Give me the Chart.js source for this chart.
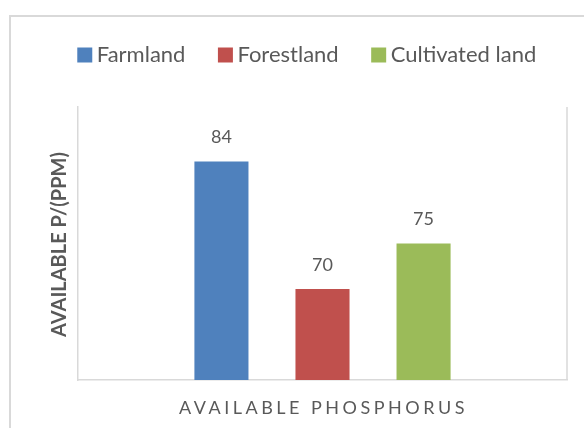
<!DOCTYPE html>
<html>
<head>
<meta charset="utf-8">
<script src="https://cdn.jsdelivr.net/npm/chart.js@4.4.1/dist/chart.umd.min.js"></script>
<style>
  html, body { margin: 0; padding: 0; background: #fff; width: 584px; height: 428px; overflow: hidden; }
  #wrap { position: relative; width: 584px; height: 428px; }
  #chart { position: absolute; left: 0; top: 0; }
  #frame { position: absolute; left: 9px; top: 15px; width: 620px; height: 460px; border: 2px solid #d9d9d9; pointer-events: none; }
</style>
</head>
<body>
<div id="wrap">
  <canvas id="chart" width="584" height="428"></canvas>
  <div id="frame"></div>
</div>
<script>
const categories = [''];
const seriesNames = ['Farmland', 'Forestland', 'Cultivated land'];
const seriesValues = [84, 70, 75];
const seriesColors = ['#4f81bd', '#c0504d', '#9bbb59'];
const yTitle = 'AVAILABLE P/(PPM)';
const xTitle = 'AVAILABLE PHOSPHORUS';
const yMin = 60;
const yMax = 90;

const textColor = '#595959';
const lineColor = '#d9d9d9';
const fontFamily = 'Lato, "Open Sans", sans-serif';

let datasets = seriesNames.map((name, i) => ({
  label: name,
  data: [seriesValues[i]],
  backgroundColor: seriesColors[i],
  borderWidth: 0,
  categoryPercentage: 0.62,
  barPercentage: 0.535
}));

// data labels over each bar
const barLabels = {
  id: 'barLabels',
  afterDatasetsDraw(chart) {
    const ctx = chart.ctx;
    ctx.save();
    ctx.font = '18px ' + fontFamily;
    ctx.fillStyle = textColor;
    ctx.textAlign = 'center';
    ctx.textBaseline = 'middle';
    chart.data.datasets.forEach((ds, i) => {
      chart.getDatasetMeta(i).data.forEach((bar, j) => {
        ctx.fillText(ds.data[j], bar.x, bar.y - 24);
      });
    });
    ctx.restore();
  }
};

// right side of plot box + axis titles (x one is letter spaced)
const plotExtras = {
  id: 'plotExtras',
  afterDraw(chart) {
    const ctx = chart.ctx;
    const a = chart.chartArea;
    ctx.save();
    ctx.strokeStyle = lineColor;
    ctx.lineWidth = 1.5;
    ctx.beginPath();
    ctx.moveTo(a.right, a.top);
    ctx.lineTo(a.right, a.bottom);
    ctx.stroke();

    ctx.fillStyle = textColor;
    ctx.textAlign = 'center';
    ctx.textBaseline = 'middle';

    ctx.save();
    ctx.font = 'bold 20px ' + fontFamily;
    ctx.translate(a.left - 18, (a.top + a.bottom) / 2 + 1);
    ctx.rotate(-Math.PI / 2);
    ctx.fillText(yTitle, 0, 0);
    ctx.restore();

    ctx.font = '18px ' + fontFamily;
    ctx.letterSpacing = '3.5px';
    ctx.fillText(xTitle, (a.left + a.right) / 2 + 1, a.bottom + 28);
    ctx.restore();
  }
};

// keep legend on one row and fix its height
const legendHeight = {
  id: 'legendHeight',
  beforeInit(chart) {
    const fit = chart.legend.fit;
    chart.legend.fit = function () {
      this.maxWidth = 700;
      fit.call(this);
      this.height = 102;
    };
  },
  beforeDraw(chart) {
    // widen the box evenly so the row stays centred and doesn't wrap
    chart.legend.left -= 100;
    chart.legend.right += 100;
  }
};

const config = {
  type: 'bar',
  data: { labels: categories, datasets: datasets },
  options: {
    responsive: false,
    animation: false,
    layout: { padding: { left: 53, right: 17, top: 5, bottom: 0 } },
    plugins: {
      legend: {
        position: 'top',
        labels: {
          usePointStyle: true,
          pointStyle: 'rect',
          boxWidth: 2,
          boxHeight: 15,
          padding: 39,
          color: textColor,
          font: { family: fontFamily, size: 22 }
        }
      },
      tooltip: { enabled: false }
    },
    scales: {
      x: {
        grid: { display: false },
        ticks: { display: false },
        border: { color: lineColor, width: 1.5 },
        afterFit: (s) => { s.height = 48; }
      },
      y: {
        min: yMin,
        max: yMax,
        grid: { display: false },
        ticks: { display: false },
        border: { color: lineColor, width: 1.5 },
        afterFit: (s) => { s.width = 25; }
      }
    }
  },
  plugins: [legendHeight, barLabels, plotExtras]
};

const myChart = new Chart(document.getElementById('chart'), config);
</script>
</body>
</html>
